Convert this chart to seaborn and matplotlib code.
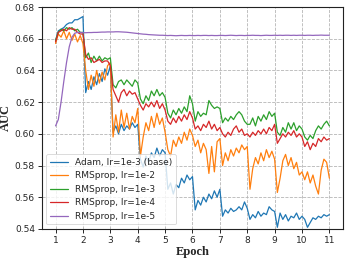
import matplotlib
matplotlib.use("Agg")
import matplotlib.pyplot as plt
import numpy as np
import pandas as pd
import seaborn as sns

# evaluation points, 10 per epoch
EPOCHS = np.round(np.arange(1.0, 11.05, 0.1), 1)

ADAM_LR1E3 = [
    0.659,
    0.665, 0.666, 0.667, 0.669, 0.670, 0.670, 0.672, 0.672, 0.673, 0.674,
    0.626, 0.633, 0.628, 0.636, 0.631, 0.638, 0.633, 0.641, 0.637, 0.643,
    0.601, 0.605, 0.600, 0.606, 0.602, 0.605, 0.603, 0.607, 0.604, 0.606,
    0.584, 0.579, 0.586, 0.582, 0.588, 0.585, 0.591, 0.586, 0.590, 0.588,
    0.565, 0.569, 0.562, 0.568, 0.566, 0.572, 0.569, 0.574, 0.571, 0.573,
    0.552, 0.558, 0.555, 0.560, 0.557, 0.562, 0.559, 0.564, 0.560, 0.565,
    0.548, 0.552, 0.550, 0.553, 0.551, 0.552, 0.554, 0.552, 0.557, 0.553,
    0.546, 0.549, 0.547, 0.551, 0.548, 0.550, 0.549, 0.554, 0.552, 0.551,
    0.541, 0.550, 0.546, 0.549, 0.545, 0.548, 0.547, 0.550, 0.546, 0.548,
    0.546, 0.541, 0.544, 0.547, 0.546, 0.548, 0.547, 0.549, 0.548, 0.549,
]

RMS_LR1E2 = [
    0.657,
    0.663, 0.661, 0.665, 0.660, 0.664, 0.659, 0.663, 0.658, 0.662, 0.657,
    0.640, 0.628, 0.637, 0.630, 0.640, 0.632, 0.639, 0.634, 0.643, 0.645,
    0.598, 0.612, 0.601, 0.615, 0.604, 0.613, 0.603, 0.611, 0.607, 0.616,
    0.586, 0.598, 0.607, 0.602, 0.611, 0.604, 0.613, 0.606, 0.610, 0.601,
    0.590, 0.586, 0.596, 0.592, 0.598, 0.594, 0.601, 0.596, 0.603, 0.599,
    0.592, 0.596, 0.588, 0.594, 0.590, 0.575, 0.592, 0.576, 0.595, 0.597,
    0.580, 0.588, 0.583, 0.590, 0.586, 0.591, 0.588, 0.593, 0.590, 0.592,
    0.565, 0.578, 0.585, 0.581, 0.588, 0.583, 0.590, 0.585, 0.589, 0.584,
    0.563, 0.572, 0.583, 0.587, 0.580, 0.585, 0.578, 0.582, 0.574, 0.576,
    0.571, 0.576, 0.569, 0.574, 0.567, 0.562, 0.577, 0.584, 0.582, 0.572,
]

RMS_LR1E3 = [
    0.659,
    0.664, 0.666, 0.665, 0.667, 0.666, 0.667, 0.665, 0.666, 0.664, 0.664,
    0.648, 0.651, 0.645, 0.649, 0.646, 0.649, 0.646, 0.648, 0.647, 0.648,
    0.631, 0.629, 0.633, 0.634, 0.631, 0.634, 0.632, 0.630, 0.634, 0.632,
    0.622, 0.619, 0.624, 0.621, 0.627, 0.624, 0.628, 0.624, 0.626, 0.623,
    0.613, 0.610, 0.615, 0.612, 0.616, 0.613, 0.617, 0.614, 0.624, 0.619,
    0.608, 0.614, 0.611, 0.613, 0.612, 0.621, 0.618, 0.616, 0.617, 0.616,
    0.607, 0.610, 0.608, 0.611, 0.609, 0.612, 0.614, 0.612, 0.608, 0.606,
    0.606, 0.610, 0.605, 0.611, 0.608, 0.612, 0.609, 0.614, 0.611, 0.613,
    0.601, 0.599, 0.604, 0.601, 0.607, 0.603, 0.607, 0.602, 0.605, 0.603,
    0.598, 0.596, 0.599, 0.597, 0.602, 0.605, 0.603, 0.606, 0.608, 0.605,
]

RMS_LR1E4 = [
    0.658,
    0.664, 0.665, 0.666, 0.665, 0.667, 0.666, 0.666, 0.664, 0.663, 0.663,
    0.650, 0.647, 0.648, 0.645, 0.646, 0.647, 0.645, 0.646, 0.646, 0.643,
    0.628, 0.624, 0.620, 0.626, 0.628, 0.624, 0.627, 0.625, 0.626, 0.622,
    0.618, 0.615, 0.619, 0.617, 0.620, 0.617, 0.621, 0.616, 0.619, 0.615,
    0.608, 0.606, 0.610, 0.607, 0.611, 0.608, 0.612, 0.609, 0.614, 0.610,
    0.603, 0.605, 0.602, 0.606, 0.604, 0.608, 0.603, 0.606, 0.602, 0.604,
    0.600, 0.598, 0.601, 0.599, 0.603, 0.605, 0.601, 0.603, 0.599, 0.600,
    0.598, 0.601, 0.599, 0.602, 0.600, 0.603, 0.600, 0.604, 0.602, 0.606,
    0.594, 0.597, 0.600, 0.598, 0.601, 0.599, 0.602, 0.598, 0.600, 0.598,
    0.592, 0.595, 0.590, 0.594, 0.592, 0.597, 0.595, 0.598, 0.596, 0.597,
]

RMS_LR1E5 = [
    0.605,
    0.609, 0.620, 0.633, 0.645, 0.655, 0.661, 0.6635, 0.6640, 0.6640, 0.6638,
    0.6638, 0.6639, 0.6639, 0.6640, 0.6640, 0.6641, 0.6642, 0.6642, 0.6643, 0.6643,
    0.6643, 0.6644, 0.6644, 0.6643, 0.6642, 0.6641, 0.6639, 0.6637, 0.6635, 0.6633,
    0.6631, 0.6629, 0.6628, 0.6626, 0.6625, 0.6624, 0.6623, 0.6622, 0.6622, 0.6621,
    0.6620, 0.6621, 0.6620, 0.6619, 0.6620, 0.6621, 0.6620, 0.6620, 0.6621, 0.6620,
    0.6620, 0.6621, 0.6620, 0.6621, 0.6621, 0.6620, 0.6621, 0.6620, 0.6620, 0.6621,
    0.6621, 0.6620, 0.6621, 0.6622, 0.6621, 0.6620, 0.6621, 0.6621, 0.6620, 0.6621,
    0.6621, 0.6622, 0.6621, 0.6621, 0.6620, 0.6621, 0.6622, 0.6621, 0.6621, 0.6622,
    0.6621, 0.6622, 0.6621, 0.6622, 0.6622, 0.6621, 0.6622, 0.6621, 0.6622, 0.6622,
    0.6621, 0.6622, 0.6622, 0.6621, 0.6622, 0.6622, 0.6623, 0.6622, 0.6622, 0.6622,
]

LABELS = [
    "Adam, lr=1e-3 (base)",
    "RMSprop, lr=1e-2",
    "RMSprop, lr=1e-3",
    "RMSprop, lr=1e-4",
    "RMSprop, lr=1e-5",
]
SERIES = [ADAM_LR1E3, RMS_LR1E2, RMS_LR1E3, RMS_LR1E4, RMS_LR1E5]
COLOURS = ["#1f77b4", "#ff7f0e", "#2ca02c", "#d62728", "#9467bd"]

X_TICKS = list(range(1, 12))
Y_TICKS = [0.54, 0.56, 0.58, 0.60, 0.62, 0.64, 0.66, 0.68]


def build_frame():
    frames = []
    for label, vals in zip(LABELS, SERIES):
        assert len(vals) == len(EPOCHS), label
        frames.append(pd.DataFrame({"Epoch": EPOCHS, "AUC": vals, "run": label}))
    return pd.concat(frames, ignore_index=True)


def main():
    sns.set_theme(style="ticks")
    plt.rcParams.update({
        "font.family": ["DejaVu Sans"],
        "axes.edgecolor": "#222222",
        "axes.linewidth": 0.8,
        "xtick.labelsize": 6.5,
        "ytick.labelsize": 6.5,
        "xtick.major.size": 3,
        "ytick.major.size": 3,
        "xtick.major.width": 0.7,
        "ytick.major.width": 0.7,
    })

    df = build_frame()
    fig, ax = plt.subplots(figsize=(3.49, 2.61), dpi=100)
    fig.subplots_adjust(left=0.120, right=0.983, top=0.973, bottom=0.123)

    sns.lineplot(
        data=df, x="Epoch", y="AUC", hue="run", hue_order=LABELS,
        palette=COLOURS, estimator=None, sort=False, linewidth=0.9, ax=ax,
    )

    ax.set_xlim(0.5, 11.5)
    ax.set_ylim(0.54, 0.68)
    ax.set_xticks(X_TICKS)
    ax.set_yticks(Y_TICKS)
    ax.set_yticklabels([f"{v:.2f}" for v in Y_TICKS])
    ax.grid(True, linestyle="--", color="#b5b5b5", linewidth=0.6)
    ax.tick_params(pad=2)

    ax.set_xlabel("Epoch", family="Liberation Serif", fontweight="bold", fontsize=9, labelpad=1)
    ax.set_ylabel("AUC", family="Liberation Serif", fontweight="bold", fontsize=9, labelpad=2)

    leg = ax.legend(loc="lower left", fontsize=6.5, frameon=True, framealpha=0.8,
                    fancybox=True, borderaxespad=0.5, title=None)
    leg.get_frame().set_edgecolor("#cccccc")
    leg.get_frame().set_linewidth(0.6)

    fig.savefig("out.png", dpi=100)
    plt.close(fig)


if __name__ == "__main__":
    main()
